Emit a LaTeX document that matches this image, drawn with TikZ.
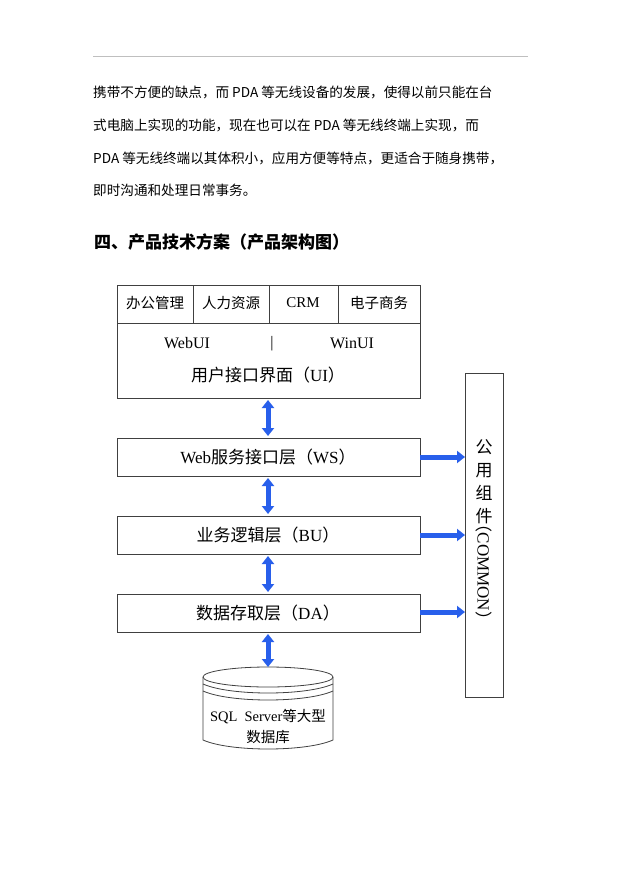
\documentclass[tikz,border=0pt]{standalone}
\usepackage{fontspec}
\setmainfont{Liberation Serif}
\newfontfamily\cjk{Noto Sans CJK SC}
\usetikzlibrary{arrows.meta}
\definecolor{arrblue}{RGB}{40,95,235}
\begin{document}
\begin{tikzpicture}[x=1pt,y=-1pt,
  box/.style={draw=black!75,line width=0.8pt},
  barrow/.style={draw=arrblue,line width=5pt,-{Triangle[width=12pt,length=8pt]}},
  darrow/.style={draw=arrblue,line width=5pt,{Triangle[width=12pt,length=8pt]}-{Triangle[width=12pt,length=8pt]}},
  para/.style={anchor=west,font=\cjk\fontsize{13.6}{16}\selectfont,inner sep=0pt},
  lab/.style={font=\fontsize{17}{20}\selectfont},
  sm/.style={font=\cjk\fontsize{14.5}{17}\selectfont}]
\useasboundingbox (0,0) rectangle (621,877);
\fill[white] (0,0) rectangle (621,877);
\draw[black!25,line width=0.8pt] (93,56) -- (528,56);
\node[para] (p1) at (93,92) {携带不方便的缺点，而 PDA 等无线设备的发展，使得以前只能在台};
\node[para] (p2) at (93,125) {式电脑上实现的功能，现在也可以在 PDA 等无线终端上实现，而};
\node[para] (p3) at (93,158) {PDA 等无线终端以其体积小，应用方便等特点，更适合于随身携带，};
\node[para] (p4) at (93,190) {即时沟通和处理日常事务。};
\node[anchor=west,inner sep=0pt,font=\cjk\bfseries\fontsize{17}{19}\selectfont] (h) at (94,242) {四、产品技术方案（产品架构图）};
% UI box
\draw[box] (117,285) rectangle (420,398);
\draw[box] (117,323) -- (420,323);
\draw[box] (193,285) -- (193,323) (269,285) -- (269,323) (338,285) -- (338,323);
\node[sm] (m1) at (155,303) {办公管理};
\node[sm] (m2) at (231,303) {人力资源};
\node[font=\fontsize{15}{17}\selectfont] (m3) at (303,303) {CRM};
\node[sm] (m4) at (379,303) {电子商务};
\node[font=\fontsize{16}{18}\selectfont] (w1) at (187,343) {WebUI};
\node[font=\fontsize{16}{18}\selectfont] (w2) at (272,344) {|};
\node[font=\fontsize{16}{18}\selectfont] (w3) at (352,343) {WinUI};
\node[lab] (ui) at (268,375) {{\cjk 用户接口界面（}UI{\cjk ）}};
% layers
\draw[box] (117,438) rectangle (420,476);
\node[lab] (ws) at (268,457) {Web{\cjk 服务接口层（}WS{\cjk ）}};
\draw[box] (117,516) rectangle (420,554);
\node[lab] (bu) at (268,535) {{\cjk 业务逻辑层（}BU{\cjk ）}};
\draw[box] (117,594) rectangle (420,632);
\node[lab] (da) at (268,613) {{\cjk 数据存取层（}DA{\cjk ）}};
% common
\draw[box] (465,373) rectangle (503,697);
\node[font=\cjk\fontsize{17}{23}\selectfont,align=center] (c1) at (484,482) {公\\用\\组\\件};
\node[lab,rotate=-90] (c2) at (484,572) {{\cjk （}COMMON{\cjk ）}};
% db
\draw[box,fill=white] (203,677) -- (203,740) .. controls (230,752) and (306,752) .. (333,740) -- (333,677);
\draw[box] (268,677) ellipse [x radius=65pt,y radius=10pt];
\draw[box] (203,684) .. controls (230,696) and (306,696) .. (333,684);
\draw[box] (203,691) .. controls (230,703) and (306,703) .. (333,691);
\node[font=\fontsize{14.5}{17}\selectfont] (db1) at (268,717) {SQL\ \ Server{\cjk 等大型}};
\node[font=\cjk\fontsize{14.5}{17}\selectfont] (db2) at (268,737) {数据库};
% arrows
\draw[darrow] (268,400) -- (268,436);
\draw[darrow] (268,478) -- (268,514);
\draw[darrow] (268,556) -- (268,592);
\draw[darrow] (268,634) -- (268,667);
\draw[barrow] (420,457) -- (465,457);
\draw[barrow] (420,535) -- (465,535);
\draw[barrow] (420,612) -- (465,612);
\end{tikzpicture}
\end{document}
